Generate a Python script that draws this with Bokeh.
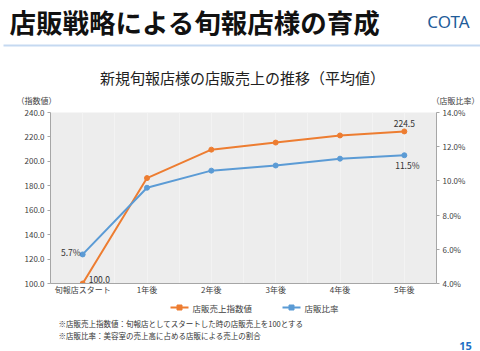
from bokeh.plotting import figure
from bokeh.layouts import column
from bokeh.models import (FactorRange, Range1d, LinearAxis, Label,
                          BoxAnnotation, FixedTicker, NumeralTickFormatter, Grid)
from bokeh.core.properties import value
from bokeh.embed import file_html
from bokeh.resources import INLINE

categories = ["旬報店スタート", "1年後", "2年後", "3年後", "4年後", "5年後"]
index_values = [100.0, 186.3, 209.6, 215.4, 221.2, 224.5]
ratio_values = [5.7, 9.6, 10.6, 10.9, 11.3, 11.5]
left_ticks = [100, 120, 140, 160, 180, 200, 220, 240]
right_ticks = [4, 6, 8, 10, 12, 14]
series_names = ["店販売上指数値", "店販比率"]

JP = "Noto Sans CJK JP"
ORANGE = "#ED7D31"
BLUE = "#5B9BD5"
W, H = 480, 351

HEAD_H = 105          # header figure: page y 0..105
FT, FB = 112, 283     # chart frame top/bottom (page coords)
FL, FR = 50, 436
CHART_BOTTOM = 300    # chart figure ends here


def blank(y0, y1):
    f = figure(width=W, height=y1 - y0, x_range=Range1d(0, W), y_range=Range1d(y1, y0),
               output_backend="svg", toolbar_location=None, x_axis_type=None,
               y_axis_type=None, min_border=0, min_border_left=0, min_border_right=0,
               min_border_top=0, min_border_bottom=0, frame_align=False)
    f.outline_line_color = None
    f.grid.grid_line_color = None
    f.background_fill_color = "white"
    f.border_fill_color = "white"
    return f


def put(f, text, X, Y, size, color="#222222", style="normal", align="left", font=JP):
    f.add_layout(Label(x=X, y=Y, text=text, text_font=font, text_font_size=size,
                       text_color=color, text_font_style=style, text_align=align,
                       text_baseline="middle"))


# ---------- header ----------
head = blank(0, HEAD_H)
put(head, "店販戦略による旬報店様の育成", 9, 21, "26.5px", "#111111", "bold")
put(head, "COTA", 448, 21, "17px", "#1F5C99", "normal", "center", "Noto Sans")
put(head, "新規旬報店様の店販売上の推移（平均値）", 242, 77, "15px", "#222222", "normal", "center")
put(head, "（指数値）", 36, 100, "8px", "#404040", "normal", "center")
put(head, "（店販比率）", 455, 100, "8px", "#404040", "normal", "center")
head.add_layout(BoxAnnotation(left=3, right=W, bottom=46, top=44,
                              fill_color="#C5D9F1", fill_alpha=1, line_color=None))

# ---------- chart ----------
p = figure(width=W, height=CHART_BOTTOM - HEAD_H, x_range=FactorRange(factors=categories),
           y_range=Range1d(100, 240), output_backend="svg", toolbar_location=None,
           min_border_left=FL, min_border_right=W - FR, min_border_top=FT - HEAD_H,
           min_border_bottom=CHART_BOTTOM - FB, border_fill_color="white",
           frame_align=False)
p.x_range.range_padding = 0
p.background_fill_color = "#EDEDED"
p.outline_line_color = None
p.extra_y_ranges = {"pct": Range1d(4, 14)}

p.yaxis.ticker = FixedTicker(ticks=left_ticks)
p.yaxis.formatter = NumeralTickFormatter(format="0.0")
ra = LinearAxis(y_range_name="pct", ticker=FixedTicker(ticks=right_ticks))
p.add_layout(ra, "right")
ra.major_label_overrides = {t: f"{t:.1f}%" for t in right_ticks}

for ax in [p.yaxis[0], ra, p.xaxis[0]]:
    ax.axis_line_color = "#A6A6A6"
    ax.major_tick_line_color = "#A6A6A6"
    ax.major_tick_out = 3
    ax.major_tick_in = 0
    ax.minor_tick_line_color = None
    ax.major_label_text_font = JP
    ax.major_label_text_font_size = "8px"
    ax.major_label_text_color = "#404040"
    ax.major_label_standoff = 3
p.xaxis.major_tick_line_color = None
p.xaxis.major_tick_out = 0
p.xaxis.major_label_standoff = 0

p.ygrid.grid_line_color = None
p.xgrid.grid_line_color = "#F3F3F3"
p.add_layout(Grid(dimension=0, ticker=FixedTicker(ticks=[1, 2, 3, 4, 5]),
                  grid_line_color="#F3F3F3"))

p.line(categories, index_values, line_color=ORANGE, line_width=2)
p.scatter(categories, index_values, size=5, color=ORANGE)
p.line(categories, ratio_values, line_color=BLUE, line_width=2, y_range_name="pct")
p.scatter(categories, ratio_values, size=5, color=BLUE, y_range_name="pct")

lab = dict(text_font=value(JP), text_font_size="8.5px", text_color="#333333")
p.text([categories[-1]], [index_values[-1]], text=[f"{index_values[-1]:.1f}"],
       text_align="center", text_baseline="bottom", y_offset=-4, **lab)
p.text([categories[-1]], [ratio_values[-1]], text=[f"{ratio_values[-1]:.1f}%"],
       text_align="center", text_baseline="top", y_offset=4, x_offset=3,
       y_range_name="pct", **lab)
p.text([categories[0]], [ratio_values[0]], text=[f"{ratio_values[0]:.1f}%"],
       text_align="right", text_baseline="middle", x_offset=-2, y_offset=-2,
       y_range_name="pct", **lab)
p.text([categories[0]], [index_values[0]], text=[f"{index_values[0]:.1f}"],
       text_align="left", text_baseline="middle", x_offset=6, y_offset=-4, **lab)

# ---------- footer ----------
foot = blank(CHART_BOTTOM, H)
LEG_Y = 307
for (x0, name, col) in [(170, series_names[0], ORANGE), (282, series_names[1], BLUE)]:
    foot.line([x0, x0 + 18], [LEG_Y, LEG_Y], line_color=col, line_width=2)
    foot.scatter([x0 + 9], [LEG_Y], size=5, marker="square", color=col)
    put(foot, name, x0 + 22, LEG_Y, "8.5px", "#404040")
put(foot, "※店販売上指数値：旬報店としてスタートした時の店販売上を100とする", 58, 323, "7.5px", "#333333")
put(foot, "※店販比率：美容室の売上高に占める店販による売上の割合", 58, 335, "7.5px", "#333333")
put(foot, "15", 465, 345, "11px", "#1F6FC5", "bold", "center", "Noto Sans")

layout = column(head, p, foot, spacing=0)
open("out.html", "w").write(file_html(layout, INLINE))
